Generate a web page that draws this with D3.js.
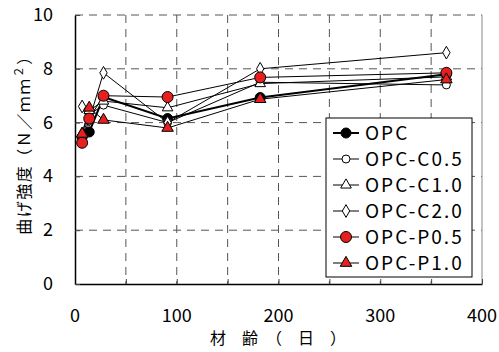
<!DOCTYPE html>
<html>
<head>
<meta charset="utf-8" />
<title>曲げ強度</title>
<script src="https://cdn.jsdelivr.net/npm/d3@7"></script>
<style>
  body { margin: 0; background: #fff; }
  text { font-family: "Noto Sans CJK JP", "Noto Sans", sans-serif; fill: #000; }
</style>
</head>
<body>
<script>
// data
var days = [7, 14, 28, 91, 182, 365];
var seriesNames = ["OPC", "OPC-C0.5", "OPC-C1.0", "OPC-C2.0", "OPC-P0.5", "OPC-P1.0"];
var opc   = [5.45, 5.65, 6.95, 6.15, 6.93, 7.8];
var c05   = [5.45, 6.3, 6.65, 6.0, 7.5, 7.4];
var c10   = [5.6, 6.45, 6.8, 6.55, 7.45, 7.7];
var c20   = [6.6, 6.1, 7.85, 6.0, 8.0, 8.6];
var p05   = [5.25, 6.15, 7.0, 6.95, 7.68, 7.85];
var p10   = [5.58, 6.55, 6.1, 5.8, 6.87, 7.6];
var xTicks = [0, 100, 200, 300, 400];
var yTicks = [0, 2, 4, 6, 8, 10];

var red = "#e5201f";
var styles = [
  {vals: opc, shape: "circle", fill: "#000", r: 5, lw: 2},
  {vals: c05, shape: "circle", fill: "#fff", r: 4, lw: 1},
  {vals: c10, shape: "triangle", fill: "#fff", r: 5.5, lw: 1},
  {vals: c20, shape: "diamond", fill: "#fff", r: 6, lw: 1},
  {vals: p05, shape: "circle", fill: red, r: 5.5, lw: 1},
  {vals: p10, shape: "triangle", fill: red, r: 6, lw: 1}
];

var W = 499, H = 352;
var pL = 75, pR = 482, pT = 15, pB = 284;

var svg = d3.select("body").append("svg").attr("width", W).attr("height", H);

var x = d3.scaleLinear().domain([0, 400]).range([pL, pR]);
var y = d3.scaleLinear().domain([0, 10]).range([pB, pT]);

// grid
svg.append("g").selectAll("line").data(d3.range(50, 400, 50)).enter().append("line")
  .attr("x1", d => x(d)).attr("x2", d => x(d)).attr("y1", pT).attr("y2", pB)
  .attr("stroke", "#555").attr("stroke-width", 1).attr("stroke-dasharray", "8,6");
svg.append("g").selectAll("line").data([2, 4, 6, 8, 10]).enter().append("line")
  .attr("x1", pL).attr("x2", pR).attr("y1", d => y(d)).attr("y2", d => y(d))
  .attr("stroke", "#555").attr("stroke-width", 1).attr("stroke-dasharray", "8,6");
// right frame
svg.append("line").attr("x1", pR).attr("x2", pR).attr("y1", pT).attr("y2", pB)
  .attr("stroke", "#888").attr("stroke-width", 1);

// axes
var xAxis = d3.axisBottom(x).tickValues(d3.range(0, 401, 50)).tickSizeInner(-5).tickSizeOuter(0).tickFormat("");
var gx = svg.append("g").attr("transform", "translate(0," + pB + ")").call(xAxis);
gx.select(".domain").attr("stroke", "#000").attr("stroke-width", 1.5);
gx.selectAll(".tick line").attr("stroke", "#444");

var yAxis = d3.axisLeft(y).tickValues(yTicks).tickSizeInner(-5).tickSizeOuter(0).tickFormat("");
var gy = svg.append("g").attr("transform", "translate(" + pL + ",0)").call(yAxis);
gy.select(".domain").attr("stroke", "#000").attr("stroke-width", 1.5);
gy.selectAll(".tick line").attr("stroke", "#444");

// tick labels
svg.append("g").selectAll("text").data(xTicks).enter().append("text")
  .attr("x", d => x(d)).attr("y", 322).attr("text-anchor", "middle")
  .attr("font-size", 18).text(d => d);
svg.append("g").selectAll("text").data(yTicks).enter().append("text")
  .attr("x", 53).attr("y", d => y(d) + 6).attr("text-anchor", "end")
  .attr("font-size", 18).text(d => d);

// axis titles
svg.append("text").attr("x", 278).attr("y", 344).attr("text-anchor", "middle")
  .attr("font-size", 16).text("材　齢　（　日　）");
var yt = svg.append("text").attr("transform", "translate(30,141) rotate(-90)")
  .attr("text-anchor", "middle").attr("font-size", 16).attr("letter-spacing", 1.5);
yt.append("tspan").text("曲げ強度（Ｎ／ｍｍ");
yt.append("tspan").attr("font-size", 11).attr("dy", -7).text("２");
yt.append("tspan").attr("dy", 7).text("）");

function symbol(s) {
  if (s.shape === "circle") return d3.symbol().type(d3.symbolCircle).size(Math.PI * s.r * s.r)();
  if (s.shape === "triangle") return d3.symbol().type(d3.symbolTriangle).size(s.r * s.r * 1.6)();
  return d3.symbol().type(d3.symbolDiamond).size(s.r * s.r * 1.3)();
}

// lines
var line = d3.line().x(d => x(d[0])).y(d => y(d[1]));
styles.forEach(function(s) {
  svg.append("path").datum(days.map((d, i) => [d, s.vals[i]]))
    .attr("d", line).attr("fill", "none").attr("stroke", "#000").attr("stroke-width", s.lw);
});
// markers
styles.forEach(function(s) {
  svg.append("g").selectAll("path").data(days.map((d, i) => [d, s.vals[i]])).enter().append("path")
    .attr("transform", d => "translate(" + x(d[0]) + "," + y(d[1]) + ")")
    .attr("d", symbol(s)).attr("fill", s.fill).attr("stroke", "#000").attr("stroke-width", 1);
});

// legend
var lg = svg.append("g");
lg.append("rect").attr("x", 326).attr("y", 118).attr("width", 146).attr("height", 159)
  .attr("fill", "#fff").attr("stroke", "#000").attr("stroke-width", 1);
seriesNames.forEach(function(n, i) {
  var s = styles[i], cy = 133 + i * 26;
  lg.append("line").attr("x1", 333).attr("x2", 359).attr("y1", cy).attr("y2", cy)
    .attr("stroke", "#000").attr("stroke-width", s.lw);
  lg.append("path").attr("transform", "translate(346," + cy + ")").attr("d", symbol(s))
    .attr("fill", s.fill).attr("stroke", "#000").attr("stroke-width", 1);
  lg.append("text").attr("x", 365).attr("y", cy + 7).attr("font-size", 19)
    .attr("letter-spacing", 2).text(n);
});
</script>
</body>
</html>
